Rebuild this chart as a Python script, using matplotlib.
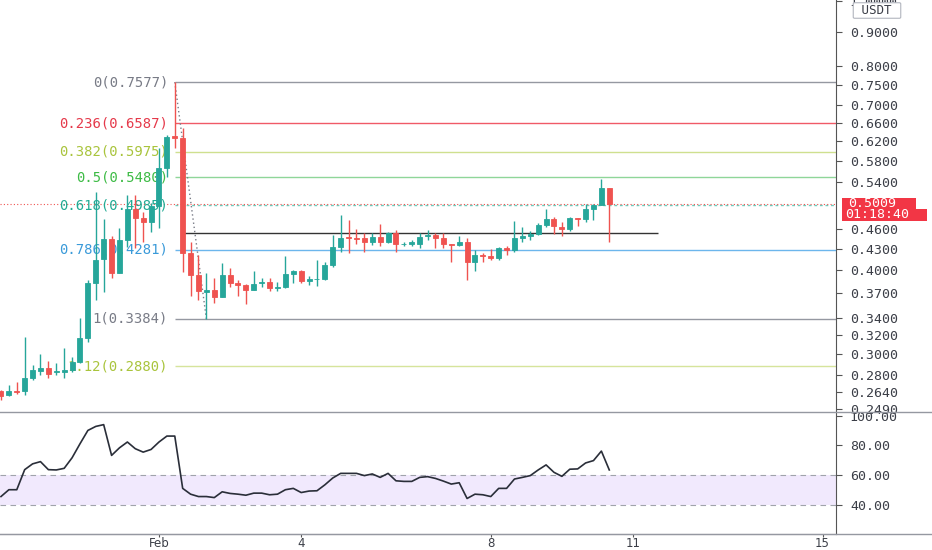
import numpy as np
import pandas as pd
import matplotlib
matplotlib.use('Agg')
import matplotlib.pyplot as plt
import matplotlib.dates as mdates
from matplotlib.lines import Line2D
from matplotlib.patches import Rectangle

# 4h candles, Jan 28 16:00 -> Feb 10 12:00
opens = [0.265, 0.261, 0.265, 0.265, 0.277, 0.283, 0.286, 0.282, 0.282, 0.284,
         0.292, 0.317, 0.382, 0.415, 0.444, 0.396, 0.443, 0.492, 0.477, 0.471,
         0.497, 0.565, 0.630, 0.627, 0.424, 0.393, 0.371, 0.373, 0.365, 0.393,
         0.383, 0.380, 0.373, 0.382, 0.384, 0.376, 0.377, 0.394, 0.399, 0.385,
         0.387, 0.388, 0.406, 0.432, 0.447, 0.446, 0.445, 0.440, 0.447, 0.439,
         0.453, 0.436, 0.437, 0.436, 0.448, 0.451, 0.446, 0.437, 0.435, 0.440,
         0.411, 0.420, 0.419, 0.416, 0.431, 0.428, 0.446, 0.449, 0.452, 0.466,
         0.475, 0.463, 0.460, 0.477, 0.476, 0.492, 0.499, 0.528]
highs = [0.266, 0.270, 0.273, 0.318, 0.289, 0.300, 0.293, 0.291, 0.307, 0.297,
         0.339, 0.386, 0.522, 0.475, 0.449, 0.461, 0.516, 0.516, 0.487, 0.502,
         0.605, 0.633, 0.7577, 0.648, 0.439, 0.421, 0.396, 0.389, 0.410, 0.402,
         0.386, 0.381, 0.399, 0.389, 0.389, 0.384, 0.419, 0.400, 0.400, 0.392,
         0.413, 0.411, 0.450, 0.482, 0.474, 0.459, 0.453, 0.454, 0.467, 0.455,
         0.458, 0.439, 0.443, 0.453, 0.458, 0.453, 0.453, 0.437, 0.448, 0.445,
         0.428, 0.424, 0.429, 0.432, 0.434, 0.472, 0.463, 0.456, 0.469, 0.492,
         0.478, 0.471, 0.478, 0.477, 0.500, 0.500, 0.545, 0.528]
lows = [0.257, 0.260, 0.262, 0.261, 0.275, 0.280, 0.277, 0.280, 0.277, 0.282,
        0.291, 0.313, 0.361, 0.371, 0.389, 0.396, 0.432, 0.431, 0.440, 0.455,
        0.461, 0.548, 0.606, 0.397, 0.366, 0.361, 0.3384, 0.357, 0.365, 0.377,
        0.366, 0.356, 0.373, 0.377, 0.372, 0.372, 0.376, 0.383, 0.383, 0.380,
        0.378, 0.386, 0.404, 0.425, 0.424, 0.437, 0.425, 0.435, 0.433, 0.438,
        0.425, 0.433, 0.433, 0.431, 0.443, 0.431, 0.431, 0.411, 0.434, 0.386,
        0.398, 0.411, 0.413, 0.414, 0.421, 0.425, 0.440, 0.443, 0.450, 0.463,
        0.452, 0.449, 0.456, 0.465, 0.470, 0.474, 0.498, 0.440]
closes = [0.260, 0.265, 0.264, 0.277, 0.284, 0.286, 0.281, 0.283, 0.284, 0.292,
          0.317, 0.382, 0.414, 0.444, 0.396, 0.443, 0.492, 0.477, 0.471, 0.497,
          0.565, 0.629, 0.627, 0.424, 0.393, 0.372, 0.373, 0.365, 0.393, 0.383,
          0.380, 0.373, 0.381, 0.384, 0.376, 0.377, 0.394, 0.399, 0.385, 0.388,
          0.388, 0.406, 0.432, 0.446, 0.445, 0.444, 0.439, 0.447, 0.439, 0.454,
          0.437, 0.437, 0.439, 0.447, 0.451, 0.446, 0.437, 0.435, 0.440, 0.411,
          0.420, 0.419, 0.416, 0.431, 0.428, 0.446, 0.449, 0.452, 0.466, 0.475,
          0.464, 0.460, 0.477, 0.476, 0.492, 0.499, 0.528, 0.5009]
rsi = [45.5, 50.1, 50.1, 63.6, 67.5, 69.0, 63.6, 63.4, 64.5, 71.6,
       81.0, 90.0, 92.7, 93.9, 73.2, 78.3, 82.2, 77.7, 75.4, 77.2,
       82.2, 86.2, 86.2, 51.0, 47.1, 45.5, 45.5, 44.8, 48.7, 47.6,
       47.1, 46.4, 47.8, 47.8, 46.7, 47.1, 50.1, 51.0, 48.2, 49.2,
       49.4, 53.4, 58.0, 61.1, 61.1, 61.1, 59.6, 60.7, 58.4, 61.1,
       56.1, 55.7, 55.7, 58.4, 58.9, 57.7, 55.9, 53.9, 54.8, 44.2,
       47.1, 46.7, 45.5, 51.0, 51.0, 57.3, 58.4, 59.6, 63.4, 66.8,
       61.8, 59.1, 63.9, 64.1, 68.1, 69.7, 76.1, 63.4]

fib_ratios = ['0', '0.236', '0.382', '0.5', '0.618', '0.786', '1', '1.12']
fib_prices = [0.7577, 0.6587, 0.5975, 0.5480, 0.4985, 0.4281, 0.3384, 0.2880]
fib_text_colors = ['#787b86', '#e5394a', '#a9c43c', '#3dbb45', '#22ab94', '#3a9ad9', '#787b86', '#a9c43c']
fib_line_colors = ['#9598a1', '#f05a67', '#cfe08f', '#8fd699', '#6ccbbb', '#6cb6ec', '#9598a1', '#d6e49c']

price_ticks = [1.0, 0.9, 0.8, 0.75, 0.7, 0.66, 0.62, 0.58, 0.54, 0.46, 0.43,
               0.40, 0.37, 0.34, 0.32, 0.30, 0.28, 0.264, 0.249]
rsi_ticks = [100, 80, 60, 40]
date_ticks = ['2021-02-01', '2021-02-04', '2021-02-08', '2021-02-11', '2021-02-15']
date_labels = ['Feb', '4', '8', '11', '15']

last_price = 0.5009
countdown = '01:18:40'
level_price = 0.453

up = '#26a69a'
down = '#ef5350'
txt = '#3b3e47'
mono = 'DejaVu Sans Mono'

times = pd.date_range('2021-01-28 16:00', periods=len(opens), freq='4h')
x = mdates.date2num(times)
feb1 = mdates.date2num(pd.Timestamp('2021-02-01'))
i_top = int(np.argmax(highs))
i_low = i_top + int(np.argmin(lows[i_top:]))

W, H = 932, 550
fig = plt.figure(figsize=(W / 100, H / 100), dpi=100)
ax = fig.add_axes([0, 138 / H, 836 / W, 412 / H])
ax2 = fig.add_axes([0, 16 / H, 836 / W, 122 / H], sharex=ax)

o = np.array(opens)
c = np.array(closes)
h = np.array(highs)
l = np.array(lows)
cols = np.where(c >= o, up, down)
ax.vlines(x, l, h, colors=cols, lw=1, zorder=4)
ax.bar(x, np.maximum(np.abs(c - o), 0.0008), bottom=np.minimum(o, c), width=0.105,
       color=cols, edgecolor=cols, lw=0.6, zorder=5)

# fib retracement
fib_start = x[i_top]
for r, p, tc, lc in zip(fib_ratios, fib_prices, fib_text_colors, fib_line_colors):
    ls = (0, (2, 2)) if r == '0.618' else '-'
    ax.hlines(p, fib_start, x[-1] + 10, colors=lc, lw=1, linestyles=ls, zorder=2)
    ax.text(fib_start - 0.14, p, '%s(%.4f)' % (r, p), ha='right', va='center',
            fontsize=10, color=tc, zorder=3, family=mono)
ax.plot([x[i_top], x[i_low]], [fib_prices[0], fib_prices[6]], color='#787b86', lw=1,
        ls=(0, (1, 2)), zorder=3)

ax.hlines(level_price, x[i_top + 1], mdates.date2num(pd.Timestamp('2021-02-11 12:45')),
          colors='#333333', lw=1, zorder=3)
ax.axhline(last_price, color=down, lw=0.8, ls=(0, (1, 2)), zorder=2)

ax.set_yscale('log')
ax.set_ylim(0.2465, 1.002)
ax.set_xlim(feb1 - 3.354, feb1 + 14.283)
ax.yaxis.tick_right()
ax.set_yticks(price_ticks)
ax.set_yticklabels(['%.4f' % t for t in price_ticks], family=mono)
ax.yaxis.set_minor_locator(matplotlib.ticker.NullLocator())
ax.tick_params(axis='y', length=4, color='#555555', labelsize=9.5, labelcolor=txt, pad=6)
ax.tick_params(axis='x', bottom=False, labelbottom=False)
for s in ['top', 'left', 'bottom']:
    ax.spines[s].set_visible(False)
ax.spines['right'].set_color('#555555')

# last price + countdown labels on the price scale
fig.canvas.draw()
yp = ax.transData.transform((x[-1], last_price))[1]
fig.add_artist(Rectangle((842 / W, (yp - 5.5) / H), 74 / W, 11 / H,
                         transform=fig.transFigure, fc='#f23645', ec='none', zorder=6))
fig.add_artist(Rectangle((842 / W, (yp - 17) / H), 85 / W, 11.5 / H,
                         transform=fig.transFigure, fc='#f23645', ec='none', zorder=6))
fig.text(848 / W, yp / H, '%.4f' % last_price, ha='left', va='center', fontsize=9.5,
         color='white', family=mono, zorder=7)
fig.text(845 / W, (yp - 11.3) / H, countdown, ha='left', va='center', fontsize=9.5,
         color='white', family=mono, zorder=7)

# RSI pane
ax2.axhspan(40, 60, color='#f1e9fd', lw=0)
ax2.axhline(60, color='#a0a3ab', lw=0.8, ls=(0, (5, 4)))
ax2.axhline(40, color='#a0a3ab', lw=0.8, ls=(0, (5, 4)))
ax2.plot(x, rsi, color='#2a2e39', lw=1.2)
ax2.set_ylim(20.3, 102.4)
ax2.yaxis.tick_right()
ax2.set_yticks(rsi_ticks)
ax2.set_yticklabels(['%.2f' % t for t in rsi_ticks], family=mono)
ax2.tick_params(axis='y', length=4, color='#555555', labelsize=9.5, labelcolor=txt, pad=6)
ax2.set_xticks(mdates.date2num(pd.to_datetime(date_ticks)))
ax2.set_xticklabels(date_labels)
ax2.tick_params(axis='x', length=2, color='#555555', labelsize=8.5, labelcolor=txt, pad=0.5)
for s in ['top', 'left']:
    ax2.spines[s].set_visible(False)
ax2.spines['right'].set_color('#555555')
ax2.spines['bottom'].set_color('#9598a1')

fig.add_artist(Line2D([0, 1], [138 / H, 138 / H], color='#9598a1', lw=1))
fig.add_artist(Line2D([0, 1], [16 / H, 16 / H], color='#9598a1', lw=1))
fig.text(877 / W, 1 - 10.5 / H, ' USDT ', ha='center', va='center', fontsize=9, color=txt,
         family=mono,
         bbox=dict(boxstyle='round,pad=0.1', fc='white', ec='#b2b5be', lw=0.8))

fig.savefig('out.png', dpi=100)
